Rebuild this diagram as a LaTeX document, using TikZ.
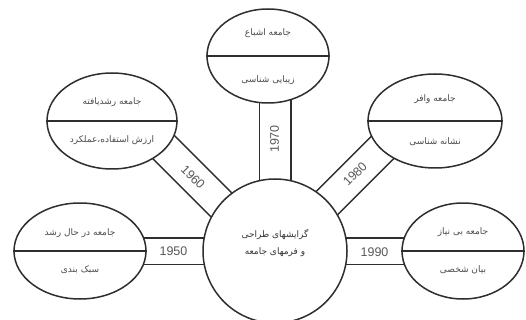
\documentclass[tikz,border=0pt]{standalone}
\usepackage{fontspec}
\setmainfont{Liberation Sans}
\newfontfamily\arabicfont[Script=Arabic]{DejaVu Sans}
\TeXXeTstate=1
\usetikzlibrary{shapes.geometric,backgrounds}
\begin{document}
\begin{tikzpicture}[x=1pt,y=-1pt,
  line/.style={draw=black!82, line width=1.5pt},
  oval/.style={ellipse, line, fill=white, inner sep=0pt},
  band/.style={line width=1.5pt, draw=black!82, double=white, double distance=#1},
  fa/.style={font=\arabicfont\fontsize{9}{11}\selectfont, text=black!70, inner sep=0pt},
  yr/.style={font=\fontsize{12.5}{14}\selectfont, text=black!65, inner sep=0pt}]
\useasboundingbox (0,0) rectangle (526,320);

% central circle
\node[circle, line, fill=white, minimum size=144pt, inner sep=0pt] (c) at (275,251) {};
\node[fa, text=black!80] (ct1) at (275,235) {\beginR گرایشهای طراحی\endR};
\node[fa, text=black!80] (ct2) at (275,252) {\beginR و فرمهای جامعه\endR};

% ellipses
\node[oval, minimum width=122pt, minimum height=94pt] (e70) at (268,56) {};
\node[oval, minimum width=130pt, minimum height=96pt] (e60) at (112,121) {};
\node[oval, minimum width=134pt, minimum height=94pt] (e80) at (435,121) {};
\node[oval, minimum width=132pt, minimum height=96pt] (e50) at (80,251) {};
\node[oval, minimum width=122pt, minimum height=96pt] (e90) at (463,251) {};

\foreach \e in {e70,e60,e80,e50,e90} \draw[line] (\e.west) -- (\e.east);

% ellipse texts
\node[fa] (t70a) at (268,33) {\beginR جامعه اشباع\endR};
\node[fa] (t70b) at (268,80) {\beginR زیبایی شناسی\endR};
\node[fa] (t60a) at (112,102) {\beginR جامعه رشدیافته\endR};
\node[fa] (t60b) at (112,140) {\beginR ارزش استفاده،عملکرد\endR};
\node[fa] (t80a) at (435,99) {\beginR جامعه وافر\endR};
\node[fa] (t80b) at (435,142) {\beginR نشانه شناسی\endR};
\node[fa] (t50a) at (80,233) {\beginR جامعه در حال رشد\endR};
\node[fa] (t50b) at (80,270) {\beginR سبک بندی\endR};
\node[fa] (t90a) at (463,232) {\beginR جامعه بی نیاز\endR};
\node[fa] (t90b) at (463,270) {\beginR بیان شخصی\endR};

% bands (connectors) behind the shapes
\coordinate (t70) at (c.center |- e70.center);
\coordinate (a60) at (255,238.5);
\coordinate (b60) at (130,113.5);
\coordinate (a80) at (295,235);
\coordinate (b80) at (420,110);
\begin{scope}[on background layer]
  \draw[band=25pt] (c.center) -- (e50.center);
  \draw[band=25pt] (c.center) -- (e90.center);
  \draw[band=30pt] (c.center) -- (t70);
  \draw[band=30pt] (a60) -- (b60);
  \draw[band=30pt] (a80) -- (b80);
\end{scope}

% year labels
\node[yr] (y50) at (173.5,251) {1950};
\node[yr] (y90) at (374.5,252) {1990};
\node[yr, rotate=90] (y70) at (274.5,139) {1970};
\node[yr, rotate=-45] (y60) at (193,177) {1960};
\node[yr, rotate=45] (y80) at (355,174) {1980};
\end{tikzpicture}
\end{document}
